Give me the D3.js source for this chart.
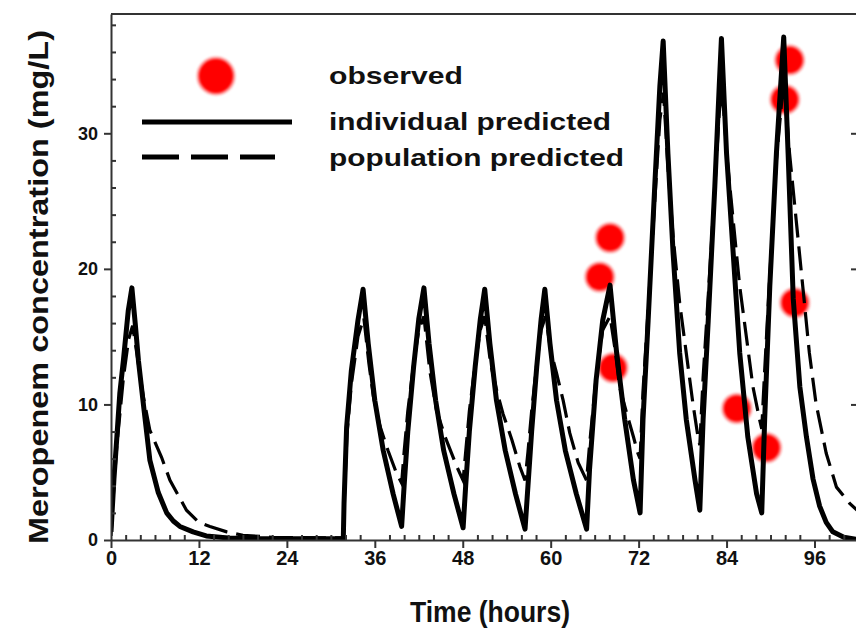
<!DOCTYPE html>
<html>
<head>
<meta charset="utf-8">
<script src="https://cdn.jsdelivr.net/npm/d3@7"></script>
<style>
  html, body { margin: 0; padding: 0; background: #fff; }
  svg { display: block; }
  text { font-family: "Liberation Sans", Arial, sans-serif; font-weight: bold; fill: #111; }
</style>
</head>
<body>
<svg id="chart" width="856" height="637"></svg>
<script>
// Meropenem concentration-time profile: observed samples, individual and population predictions.
// Each point is [time (h), concentration (mg/L)].
const individualPredicted = [
  [0, 0.6], [0.4, 4.5], [0.8, 7.6], [1.2, 10.8], [1.7, 13.3], [2.35, 16.9], [2.85, 18.6],
  [3.3, 16.0], [3.75, 13.2], [4.4, 10.1], [5.3, 5.9], [6.45, 3.5], [7.6, 2.0], [8.5, 1.4],
  [9.4, 1.0], [11.2, 0.6], [13, 0.3], [16, 0.15], [20, 0.1], [31.7, 0.1],
  [31.8, 2.7], [32.15, 8.3], [32.8, 12.5], [33.7, 16.2], [34.4, 18.5],
  [35.1, 14.5], [36.0, 10.3], [37.15, 6.6], [38.5, 3.4], [39.66, 1.0],
  [40.0, 4.0], [40.5, 8.0], [41.3, 12.8], [42.0, 16.3], [42.7, 18.6],
  [43.4, 14.5], [44.3, 10.3], [45.4, 6.6], [46.8, 3.4], [48.05, 0.9],
  [48.4, 4.0], [48.9, 8.0], [49.7, 12.8], [50.4, 16.3], [51.0, 18.5],
  [51.7, 14.5], [52.6, 10.3], [53.8, 6.6], [55.2, 3.4], [56.5, 0.8],
  [56.9, 4.0], [57.4, 8.0], [58.1, 12.8], [58.7, 16.3], [59.2, 18.5],
  [59.9, 14.5], [60.8, 10.3], [62.0, 6.6], [63.5, 3.4], [64.9, 0.8],
  [65.3, 5.2], [66.2, 11.8], [67.1, 16.2], [68.1, 18.8],
  [69.0, 13.8], [70.1, 8.9], [71.3, 4.4], [72.2, 2.0],
  [72.6, 8.9], [73.3, 16.2], [74.2, 26.1], [74.9, 33.5], [75.35, 36.8],
  [76.0, 28.5], [76.7, 21.2], [77.6, 13.8], [78.5, 8.9], [79.7, 4.4], [80.35, 2.2],
  [80.8, 8.9], [81.5, 16.2], [82.4, 26.1], [83.0, 33.5], [83.3, 37.0],
  [84.0, 28.5], [84.9, 21.2], [85.8, 13.8], [86.9, 7.6], [88.1, 3.4], [88.8, 2.0],
  [89.2, 8.9], [89.9, 18.7], [90.8, 28.5], [91.8, 37.1],
  [92.4, 28.5], [93.1, 17.8], [94.0, 11.3], [94.9, 7.6], [95.8, 4.5], [96.7, 2.5],
  [97.6, 1.3], [98.5, 0.6], [100, 0.2], [101.8, 0.05]
];

const populationPredicted = [
  [0, 0.3], [0.4, 4.0], [0.8, 7.0], [1.7, 12.0], [2.4, 14.8], [2.95, 15.8],
  [3.6, 13.5], [4.4, 10.6], [5.3, 8.1], [6.9, 6.1], [8.05, 4.4], [10.3, 2.2],
  [12.0, 1.3], [13.5, 1.0], [15.8, 0.6], [18, 0.35], [22, 0.2], [31.7, 0.15],
  [31.8, 2.5], [32.2, 7.8], [32.8, 11.5], [33.7, 15.0], [34.5, 16.4],
  [35.2, 13.0], [35.8, 10.6], [36.7, 8.4], [37.8, 6.6], [38.98, 4.9], [39.66, 4.2],
  [40.0, 6.5], [40.5, 9.5], [41.3, 13.0], [42.0, 15.5], [42.7, 16.5],
  [43.5, 12.5], [44.4, 9.6], [45.6, 7.6], [47.2, 5.4], [48.05, 4.4],
  [48.4, 6.5], [48.9, 9.5], [49.7, 13.0], [50.4, 15.5], [51.0, 16.5],
  [51.8, 13.0], [52.6, 11.1], [53.5, 9.3], [54.7, 7.4], [55.8, 5.4], [56.5, 4.4],
  [56.9, 6.5], [57.4, 9.5], [58.1, 13.0], [58.7, 15.5], [59.3, 16.5],
  [60.0, 14.0], [60.8, 12.3], [61.7, 10.3], [62.6, 7.9], [63.75, 5.7], [64.9, 4.4],
  [65.3, 7.0], [66.2, 12.0], [67.1, 15.5], [68.1, 16.5],
  [68.8, 14.0], [69.4, 11.3], [70.4, 9.3], [71.3, 7.6], [71.9, 6.4], [72.2, 6.0],
  [72.6, 11.0], [73.3, 17.0], [74.2, 25.0], [74.9, 31.0], [75.4, 33.0],
  [76.0, 27.5], [76.7, 22.4], [77.6, 17.5], [78.5, 13.8], [79.4, 10.1], [80.1, 7.6], [80.35, 7.0],
  [80.8, 12.0], [81.5, 18.0], [82.4, 26.0], [83.0, 31.5], [83.4, 33.3],
  [84.1, 28.0], [84.9, 23.6], [85.8, 18.7], [86.7, 15.0], [87.6, 11.3], [88.5, 8.9], [88.8, 8.2],
  [89.2, 12.5], [89.9, 19.5], [90.8, 28.0], [91.8, 34.0],
  [92.6, 28.5], [93.5, 23.6], [94.4, 18.7], [95.3, 13.8], [96.2, 10.1], [97.6, 6.4],
  [99.0, 3.9], [100.8, 2.7], [101.8, 2.2]
];

const observedTime = [66.7, 68.1, 68.5, 85.4, 89.45, 91.95, 92.6, 93.3];
const observedConc = [19.4, 22.3, 12.7, 9.7, 6.8, 32.5, 35.4, 17.5];

const xTicks = [0, 12, 24, 36, 48, 60, 72, 84, 96];
const yTicks = [0, 10, 20, 30];
const xLabel = "Time (hours)";
const yLabel = "Meropenem concentration (mg/L)";
const legendLabels = ["observed", "individual predicted", "population predicted"];

const svg = d3.select("#chart");
const plotLeft = 111, plotRight = 857, plotTop = 14, plotBottom = 540;

const x = d3.scaleLinear().domain([0, 101.8]).range([plotLeft, plotRight]);
const y = d3.scaleLinear().domain([0, 38.8]).range([plotBottom, plotTop]);

const defs = svg.append("defs");
defs.append("clipPath").attr("id", "plot-clip")
  .append("rect").attr("x", plotLeft).attr("y", plotTop)
  .attr("width", plotRight - plotLeft).attr("height", plotBottom - plotTop);
const soft = defs.append("filter").attr("id", "soft")
  .attr("x", "-50%").attr("y", "-50%").attr("width", "200%").attr("height", "200%");
soft.append("feGaussianBlur").attr("stdDeviation", 1.1);

function dot(g, cx, cy, r) {
  g.append("circle").attr("cx", cx).attr("cy", cy).attr("r", r + 2.5)
    .attr("fill", "#ff7070").attr("opacity", 0.7).attr("filter", "url(#soft)");
  g.append("circle").attr("cx", cx).attr("cy", cy).attr("r", r)
    .attr("fill", "#ff0000").attr("filter", "url(#soft)");
}

// Observed samples (drawn beneath the prediction lines)
const plot = svg.append("g").attr("clip-path", "url(#plot-clip)");
observedTime.forEach((t, i) => dot(plot, x(t), y(observedConc[i]), 13));

const line = d3.line().x(d => x(d[0])).y(d => y(d[1]));

plot.append("path").datum(populationPredicted)
  .attr("d", line).attr("fill", "none").attr("stroke", "#000")
  .attr("stroke-width", 3.2).attr("stroke-dasharray", "24,9");

plot.append("path").datum(individualPredicted)
  .attr("d", line).attr("fill", "none").attr("stroke", "#000")
  .attr("stroke-width", 5).attr("stroke-linejoin", "round");

// Frame: top and right edges
svg.append("line").attr("x1", plotLeft).attr("x2", plotRight).attr("y1", plotTop).attr("y2", plotTop)
  .attr("stroke", "#333").attr("stroke-width", 2);
svg.append("line").attr("x1", plotRight).attr("x2", plotRight).attr("y1", plotTop).attr("y2", plotBottom)
  .attr("stroke", "#333").attr("stroke-width", 2);

function styleAxis(size) {
  return g => {
    g.attr("font-size", size);
    g.select(".domain").attr("stroke", "#333").attr("stroke-width", 2);
    g.selectAll(".tick line").attr("stroke", "#333").attr("stroke-width", 2);
    g.selectAll(".tick text").attr("fill", "#111")
      .style("font-size", size + "px")
      .style("font-family", "'Liberation Sans Narrow', 'Liberation Sans', Arial, sans-serif")
      .style("font-weight", "bold");
  };
}

// Minor ticks point into the plot, majors point outward
const yMinor = d3.range(2, 39, 2).filter(v => v % 10 !== 0);
const xMinor = d3.range(2, 102, 2).filter(v => v % 12 !== 0);

svg.append("g").attr("transform", `translate(${plotLeft},0)`)
  .call(d3.axisRight(y).tickValues(yMinor).tickSize(5).tickFormat(""))
  .call(g => g.select(".domain").remove())
  .call(styleAxis(16));
svg.append("g").attr("transform", `translate(0,${plotBottom})`)
  .call(d3.axisTop(x).tickValues(xMinor).tickSize(5).tickFormat(""))
  .call(g => g.select(".domain").remove())
  .call(styleAxis(16));

svg.append("g").attr("transform", `translate(${plotLeft},0)`)
  .call(d3.axisLeft(y).tickValues(yTicks).tickSize(7).tickPadding(6).tickSizeOuter(0))
  .call(styleAxis(18));
svg.append("g").attr("transform", `translate(0,${plotBottom})`)
  .call(d3.axisBottom(x).tickValues(xTicks).tickSize(8).tickPadding(3).tickSizeOuter(0))
  .call(styleAxis(20));
svg.append("g").attr("transform", `translate(${plotRight},0)`)
  .call(d3.axisLeft(y).tickValues(yTicks.filter(v => v > 0)).tickSize(6).tickFormat(""))
  .call(g => g.select(".domain").remove())
  .call(styleAxis(16));

// Axis titles
svg.append("text").attr("x", 490).attr("y", 622)
  .attr("text-anchor", "middle").attr("font-size", 29)
  .attr("textLength", 160).attr("lengthAdjust", "spacingAndGlyphs")
  .text(xLabel);
svg.append("text")
  .attr("transform", "translate(48,287) rotate(-90)")
  .attr("text-anchor", "middle").attr("font-size", 28)
  .attr("textLength", 514).attr("lengthAdjust", "spacingAndGlyphs")
  .text(yLabel);

// Legend
const legend = svg.append("g");
dot(legend, 216, 76, 17);
legend.append("line").attr("x1", 142).attr("x2", 292).attr("y1", 122).attr("y2", 122)
  .attr("stroke", "#000").attr("stroke-width", 5);
legend.append("line").attr("x1", 142).attr("x2", 275).attr("y1", 157).attr("y2", 157)
  .attr("stroke", "#000").attr("stroke-width", 5).attr("stroke-dasharray", "37,12");
const legendY = [84, 130, 166];
const legendW = [134, 282, 295];
legendLabels.forEach((s, i) => {
  legend.append("text").attr("x", 329).attr("y", legendY[i])
    .attr("font-size", 24)
    .attr("textLength", legendW[i]).attr("lengthAdjust", "spacingAndGlyphs")
    .text(s);
});
</script>
</body>
</html>
